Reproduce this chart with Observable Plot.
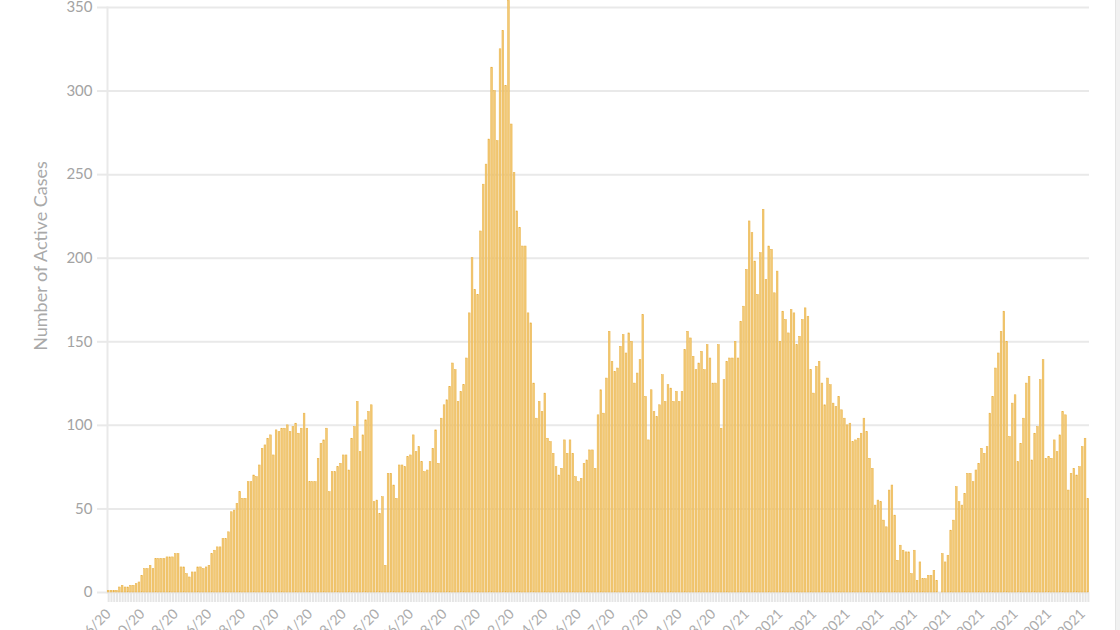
<!DOCTYPE html>
<html><head><meta charset="utf-8">
<script src="https://cdn.jsdelivr.net/npm/d3@7"></script>
<script src="https://cdn.jsdelivr.net/npm/@observablehq/plot@0.6"></script>
<style>
html,body{margin:0;padding:0;background:#fff;overflow:hidden;}
#wrap{position:relative;width:1120px;height:630px;overflow:hidden;}
#ylabel{position:absolute;left:40px;top:256px;transform:translate(-50%,-50%) rotate(-90deg);font:18px Lato, sans-serif;color:#a9a9a9;white-space:nowrap;}
#scroll{position:absolute;right:0;top:0;width:4px;height:630px;background:#f1f1f1;border-left:1px solid #e4e4e4;}
</style></head><body><div id="wrap"><div id="chart"></div><div id="ylabel">Number of Active Cases</div><div id="scroll"></div></div>
<script>
// Daily active cases
const activeCases = [
  1,1,1,1,3,4,3,3,4,4, 5,6,10,14,14,16,14,20,20,20, 20,21,21,21,23,23,15,15,11,9,
  12,12,15,15,14,15,16,23,25,27, 27,32,32,36,48,49,53,60,56,56, 66,66,70,69,76,86,88,92,94,82,
  97,96,98,98,100,96,99,101,95,98, 107,98,66,66,66,80,89,91,98,60, 72,72,75,77,82,82,73,92,99,114,
  84,94,103,108,112,54,55,47,57,16, 71,71,64,56,76,76,
  75,81,82,94,84,87,78,72,73,78, 86,97,77,104,112,115,123,137,133,114, 120,124,140,167,200,181,178,216,244,256,
  271,314,300,270,325,336,303,354,280,251, 228,218,207,207,167,161,125,104,114,108, 119,92,90,83,75,70,74,
  91,83,91,83,69,66,68,77,79,85, 85,74,106,121,107,128,156,138,132,134, 147,154,143,155,150,125,131,139,166,117,
  91,121,108,105,112,130,114,124,122,114, 120,114,120,145,156,152,141,133,137,144, 133,148,140,125,125,148,98,127,138,140,
  140,150,140,162,171,193,222,215,198,178, 203,229,187,207,205,179,192,150,168,163, 155,169,167,148,153,163,170,165,133,119,
  135,138,125,112,128,124,113,111,117,109, 104,100,101,90,91,92,95,
  104,96,80,74,52,55,54,43,39,61, 64,46,19,28,25,24,24,11,25,7, 18,8,8,10,10,13,7,0,23,18,
  22,37,43,63,54,52,59,71,71,66, 73,77,86,83,87,107,117,134,143,156, 168,150,93,113,118,78,89,104,125,129,
  79,95,99,127,139,80,81,80,91,84, 94,108,106,61,71,74,70,75,87,92, 56
];
// Date labels shown under every 12th bar
const tickLabels = [
  "5/16/20","5/30/20","6/13/20","6/26/20","7/8/20","7/20/20","8/1/20","8/13/20","8/25/20","9/6/20",
  "9/18/20","9/30/20","10/12/20","10/24/20","11/6/20","11/17/20","11/29/20","12/11/20","12/23/20","1/10/21",
  "1/22/2021","2/3/2021","2/15/2021","2/27/2021","3/11/2021","3/23/2021","4/4/2021","4/16/2021","4/28/2021","5/10/2021"
];
const tickEvery = 12;
const yTicks = [0, 50, 100, 150, 200, 250, 300, 350];

const data = activeCases.map((v, i) => ({i, v}));
const idx = data.map(d => d.i);
const labelTicks = tickLabels.map((_, k) => k * tickEvery);

const chart = Plot.plot({
  width: 1120, height: 630,
  marginLeft: 107, marginRight: 31, marginTop: 7, marginBottom: 38,
  style: {fontFamily: "Lato, sans-serif", fontSize: "15px", color: "#a3a3a3", background: "#fff", overflow: "visible"},
  x: {type: "band", domain: idx, paddingInner: 0.38, paddingOuter: 0.1},
  y: {domain: [0, 350]},
  marks: [
    Plot.gridY(yTicks, {stroke: "#e9e9e9", strokeOpacity: 1, strokeWidth: 2}),
    Plot.frame({anchor: "left", stroke: "#e9e9e9", strokeWidth: 2}),
    Plot.axisY(yTicks, {tickSize: 10, tickPadding: 5, stroke: "#e9e9e9", strokeWidth: 2, strokeOpacity: 1, fill: "#a3a3a3", fontSize: 15, label: null}),
    Plot.axisX(idx, {tickSize: 10, stroke: "#e6e6e6", strokeWidth: 2, strokeOpacity: 1, tickFormat: () => "", label: null}),
    Plot.axisX(labelTicks, {tickSize: 0, tickPadding: 19, tickRotate: -45, tickFormat: d => tickLabels[d / tickEvery], fill: "#ababab", fontSize: 14, label: null}),
    Plot.barY(data, {x: "i", y: "v", fill: "#f2c975", stroke: "#e9b146", strokeWidth: 0.5})
  ]
});
document.getElementById("chart").appendChild(chart);
</script></body></html>
